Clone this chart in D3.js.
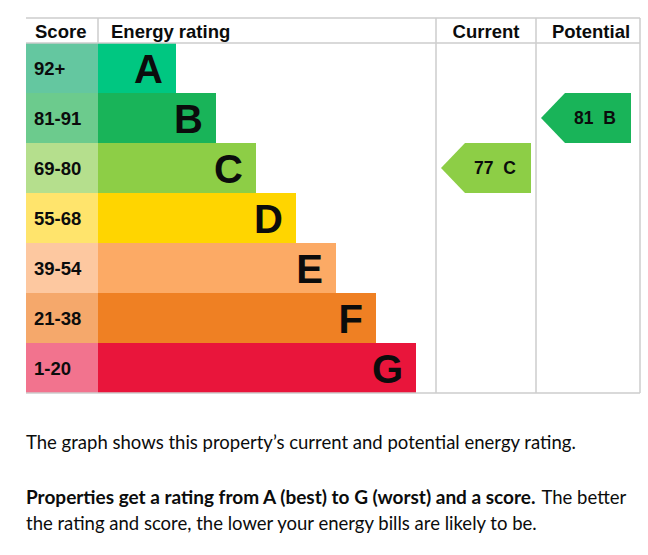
<!DOCTYPE html>
<html>
<head>
<meta charset="utf-8">
<script src="https://cdn.jsdelivr.net/npm/d3@7"></script>
<style>
  body { margin: 0; background: #fff; }
  svg { display: block; }
</style>
</head>
<body>
<svg id="epc" width="648" height="555"></svg>
<script>
// rating bands, top (best) to bottom (worst)
const bands = ['A', 'B', 'C', 'D', 'E', 'F', 'G'];
const scoreRanges = ['92+', '81-91', '69-80', '55-68', '39-54', '21-38', '1-20'];
const columns = ['Score', 'Energy rating', 'Current', 'Potential'];

const current = { score: 77, band: 'C' };
const potential = { score: 81, band: 'B' };

const captionLine = 'The graph shows this property\u2019s current and potential energy rating.';
const boldLead = 'Properties get a rating from A (best) to G (worst) and a score.';
const restLine1 = 'The better';
const restLine2 = 'the rating and score, the lower your energy bills are likely to be.';

const svg = d3.select('#epc');

// colours per band, bar + lighter score cell
const barColor = d3.scaleOrdinal().domain(bands)
    .range(['#00c781', '#19b459', '#8dce46', '#ffd500', '#fcaa65', '#ef8023', '#e9153b']);
const cellColor = d3.scaleOrdinal().domain(bands)
    .range(['#64c7a0', '#6ccb8d', '#b5df8d', '#ffe46c', '#fdc8a0', '#f5a86b', '#f2738e']);

// window.top exists already, so tableTop
const tableTop = 18, headBottom = 43, tableBottom = 393;
const left = 26, scoreRight = 98, curLeft = 436, potLeft = 536, right = 640;

const y = d3.scaleBand().domain(bands).range([headBottom, tableBottom]);
// bar end grows by band index
const barEnd = d3.scaleLinear().domain([0, bands.length - 1]).range([176, 416]);

const grid = '#cccccc';
const bold = 'font-family: Arial, "Liberation Sans", sans-serif; font-weight: bold; fill: #0b0c0c;';

// score cells
svg.selectAll('rect.cell')
    .data(bands)
    .join('rect')
    .attr('class', 'cell')
    .attr('x', left)
    .attr('y', d => y(d))
    .attr('width', scoreRight - left)
    .attr('height', y.bandwidth())
    .attr('fill', d => cellColor(d));

// bars
svg.selectAll('rect.bar')
    .data(bands)
    .join('rect')
    .attr('class', 'bar')
    .attr('x', scoreRight)
    .attr('y', d => y(d))
    .attr('width', (d, i) => barEnd(i) - scoreRight)
    .attr('height', y.bandwidth())
    .attr('fill', d => barColor(d));

// grid lines
const lines = [
    [left, tableTop, right, tableTop],
    [left, headBottom, right, headBottom],
    [scoreRight, tableTop, scoreRight, headBottom],
    [curLeft, tableTop, curLeft, tableBottom],
    [potLeft, tableTop, potLeft, tableBottom],
    [right, tableTop, right, tableBottom],
    [left, tableBottom, right, tableBottom]
];
svg.selectAll('line.grid')
    .data(lines)
    .join('line')
    .attr('class', 'grid')
    .attr('x1', d => d[0]).attr('y1', d => d[1])
    .attr('x2', d => d[2]).attr('y2', d => d[3])
    .attr('stroke', grid)
    .attr('stroke-width', 1.5);

// header text
const headX = [35, 111, (curLeft + potLeft) / 2, (potLeft + right) / 2 + 3];
const headAnchor = ['start', 'start', 'middle', 'middle'];
svg.selectAll('text.head')
    .data(columns)
    .join('text')
    .attr('class', 'head')
    .attr('x', (d, i) => headX[i])
    .attr('y', 37.5)
    .attr('text-anchor', (d, i) => headAnchor[i])
    .attr('style', bold + 'font-size: 18.5px;')
    .text(d => d);

// score labels
svg.selectAll('text.range')
    .data(scoreRanges)
    .join('text')
    .attr('class', 'range')
    .attr('x', 34)
    .attr('y', (d, i) => y(bands[i]) + y.bandwidth() / 2 + 6.5)
    .attr('style', bold + 'font-size: 18.5px;')
    .text(d => d);

// band letters
svg.selectAll('text.letter')
    .data(bands)
    .join('text')
    .attr('class', 'letter')
    .attr('x', (d, i) => barEnd(i) - 13)
    .attr('y', d => y(d) + y.bandwidth() / 2 + 14.5)
    .attr('text-anchor', 'end')
    .attr('style', bold + 'font-size: 40px;')
    .text(d => d);

// current / potential arrows
function arrow(rating, colLeft, colRight) {
    const y0 = y(rating.band), h = y.bandwidth();
    const tip = colLeft + 5, bodyX = tip + 24, end = colRight - 5;
    const g = svg.append('g');
    g.append('path')
        .attr('d', `M${tip},${y0 + h / 2}L${bodyX},${y0}L${end},${y0}L${end},${y0 + h}L${bodyX},${y0 + h}Z`)
        .attr('fill', barColor(rating.band));
    g.append('text')
        .attr('x', (bodyX + end) / 2 - 3)
        .attr('y', y0 + h / 2 + 6.3)
        .attr('text-anchor', 'middle')
        .attr('style', bold + 'font-size: 17.5px; white-space: pre;')
        .text(`${rating.score}  ${rating.band}`);
}
arrow(current, curLeft, potLeft);
arrow(potential, potLeft, right - 4);

// explanation text below
function para(str, x, yy, weight, size) {
    return svg.append('text')
        .attr('x', x).attr('y', yy)
        .attr('font-family', 'Lato, "Noto Sans", sans-serif')
        .attr('font-weight', weight)
        .attr('fill', '#0b0c0c')
        .attr('font-size', size)
        .text(str);
}
// size the caption to its width in the reference, reuse that size for normal text
const cap = para(captionLine, 26, 448.5, 'normal', 19);
const bodySize = Math.min(19.5, 19 * 550 / cap.node().getComputedTextLength());
cap.attr('font-size', bodySize);

const lead = para(boldLead, 26, 503.5, 'bold', 19);
lead.attr('font-size', Math.min(19.5, 19 * 510 / lead.node().getComputedTextLength()));
const leadEnd = 26 + lead.node().getComputedTextLength();
para(restLine1, leadEnd + 6, 503.5, 'normal', bodySize);
para(restLine2, 26, 529.5, 'normal', bodySize);
</script>
</body>
</html>
